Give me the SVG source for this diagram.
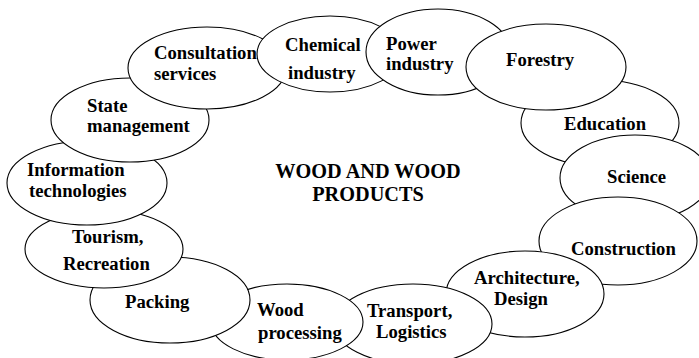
<svg xmlns="http://www.w3.org/2000/svg" width="699" height="358" viewBox="0 0 699 358">
<style>
ellipse{fill:#fff;stroke:#000;stroke-width:1.1}
.title{font-size:20.3px}
</style>
<rect width="699" height="358" fill="#fff"/>
<g font-family="Liberation Serif, Times New Roman, serif" font-weight="bold" font-size="18.7" fill="#000">
<g id="education"><ellipse cx="600" cy="123" rx="79" ry="43"/><text x="564" y="130">Education</text></g>
<g id="science"><ellipse cx="635" cy="178" rx="75" ry="43"/><text x="607" y="183">Science</text></g>
<g id="construction"><ellipse cx="618" cy="241" rx="79" ry="44"/><text x="571" y="255">Construction</text></g>
<g id="architecture"><ellipse cx="525" cy="294" rx="79" ry="43"/><text x="474" y="284">Architecture,</text><text x="494" y="305">Design</text></g>
<g id="transport"><ellipse cx="413" cy="324" rx="79" ry="40"/><text x="367" y="317">Transport,</text><text x="376" y="338">Logistics</text></g>
<g id="wood-processing"><ellipse cx="287" cy="322" rx="76" ry="38"/><text x="257" y="316">Wood</text><text x="258" y="339">processing</text></g>
<g id="packing"><ellipse cx="170" cy="300" rx="80" ry="43"/><text x="125" y="308">Packing</text></g>
<g id="tourism"><ellipse cx="104" cy="249" rx="79" ry="39"/><text x="72" y="243">Tourism,</text><text x="63" y="270">Recreation</text></g>
<g id="information"><ellipse cx="87" cy="183" rx="80" ry="42"/><text x="27" y="176">Information</text><text x="29" y="197">technologies</text></g>
<g id="state"><ellipse cx="130" cy="120" rx="79" ry="42"/><text x="87" y="112">State</text><text x="87" y="132">management</text></g>
<g id="consultation"><ellipse cx="207" cy="68" rx="79" ry="41"/><text x="154" y="59">Consultation</text><text x="154" y="80">services</text></g>
<g id="chemical"><ellipse cx="330" cy="54" rx="73" ry="38"/><text x="285" y="51">Chemical</text><text x="288" y="79">industry</text></g>
<g id="power"><ellipse cx="438" cy="52" rx="72" ry="43"/><text x="386" y="50">Power</text><text x="386" y="70">industry</text></g>
<g id="forestry"><ellipse cx="546" cy="67" rx="80" ry="43"/><text x="506" y="66">Forestry</text></g>
<g id="center"><text class="title" x="368" y="178" text-anchor="middle">WOOD AND WOOD</text><text class="title" x="368" y="201" text-anchor="middle">PRODUCTS</text></g>
</g>
<g id="connectors"/>
</svg>
